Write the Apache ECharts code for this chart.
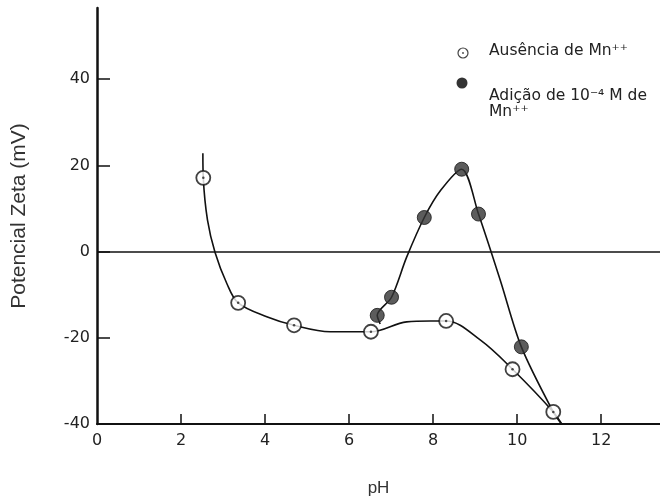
<!DOCTYPE html>
<html>
<head>
<meta charset="utf-8">
<script src="https://cdn.jsdelivr.net/npm/echarts@6/dist/echarts.min.js"></script>
<style>
  html, body { margin: 0; padding: 0; background: #fff; }
  #chart { width: 660px; height: 497px; }
</style>
</head>
<body>
<div id="chart"></div>
<script>
// Axis tick labels
const xTicks = [0, 2, 4, 6, 8, 10, 12];
const yTicks = [-40, -20, 0, 20, 40];

// Measured zeta potential without Mn++
const pHSemMn = [2.53, 3.36, 4.69, 6.52, 8.31, 9.89, 10.86];
const zetaSemMn = [17.1, -11.9, -17.1, -18.6, -16.1, -27.3, -37.2];

// Measured zeta potential with 10^-4 M Mn++
const pHComMn = [6.67, 7.01, 7.79, 8.68, 9.08, 10.10];
const zetaComMn = [-14.8, -10.6, 7.9, 19.1, 8.7, -22.1];

// Trend curves drawn through the measurements (knots)
const curvaSemMnPH = [2.52, 2.53, 2.63, 2.81, 3.09, 3.36, 4.04, 4.69, 5.55, 6.52, 7.37, 7.93, 8.31, 9.12, 9.89, 10.86, 11.10];
const curvaSemMnZeta = [22.8, 17.1, 7.3, -0.2, -7.4, -11.9, -15.1, -17.1, -18.6, -18.6, -16.3, -16.1, -16.1, -20.5, -27.3, -37.2, -40.6];
const curvaComMnPH = [6.74, 6.67, 7.01, 7.37, 7.79, 8.18, 8.68, 9.08, 9.60, 10.10, 10.86, 11.10];
const curvaComMnZeta = [-16.8, -14.8, -10.6, -1.3, 7.9, 14.2, 19.1, 8.7, -6.7, -22.1, -37.2, -40.6];

const legendSemMn = 'Ausência de Mn⁺⁺';
const legendComMn = 'Adição de 10⁻⁴ M de\nMn⁺⁺';

const zip = (xs, ys) => xs.map((x, i) => [x, ys[i]]);

const ink = '#111';
const chart = echarts.init(document.getElementById('chart'), null, { renderer: 'canvas' });

chart.setOption({
  animation: false,
  backgroundColor: '#fff',
  grid: { left: 97, right: 0, top: 8, bottom: 73, containLabel: false, outerBoundsMode: 'none' },
  xAxis: {
    type: 'value',
    min: 0,
    max: 13.4,
    name: 'pH',
    nameLocation: 'middle',
    nameGap: 56,
    nameTextStyle: { fontFamily: 'Liberation Sans', fontSize: 17, color: '#333' },
    axisLine: { show: true, onZero: false, lineStyle: { color: ink, width: 2 } },
    axisTick: { show: true, inside: true, length: 10, lineStyle: { color: ink, width: 1.5 },
                customValues: xTicks.filter(v => v > 0) },
    axisLabel: { show: true, margin: 9, fontFamily: 'DejaVu Sans', fontSize: 16, color: '#222',
                 customValues: xTicks },
    splitLine: { show: false }
  },
  yAxis: {
    type: 'value',
    min: -40,
    max: 56.5,
    name: 'Potencial Zeta (mV)',
    nameLocation: 'middle',
    nameGap: 67,
    nameRotate: 90,
    nameTextStyle: { fontFamily: 'Liberation Sans', fontSize: 21, color: '#333' },
    axisLine: { show: true, onZero: false, lineStyle: { color: ink, width: 2.5 } },
    axisTick: { show: true, inside: true, length: 13, lineStyle: { color: ink, width: 1.5 },
                customValues: yTicks.filter(v => v > -40) },
    axisLabel: { show: true, margin: 7, fontFamily: 'DejaVu Sans', fontSize: 16, color: '#222',
                 customValues: yTicks },
    splitLine: { show: false }
  },
  series: [
    {
      name: 'curva sem Mn',
      type: 'line',
      data: zip(curvaSemMnPH, curvaSemMnZeta),
      smooth: 0.35,
      showSymbol: false,
      symbol: 'none',
      lineStyle: { color: ink, width: 1.6 },
      z: 2,
      markLine: {
        silent: true,
        symbol: 'none',
        label: { show: false },
        lineStyle: { color: ink, width: 1.7, type: 'solid' },
        data: [{ yAxis: 0 }]
      }
    },
    {
      name: 'curva com Mn',
      type: 'line',
      data: zip(curvaComMnPH, curvaComMnZeta),
      smooth: 0.3,
      showSymbol: false,
      symbol: 'none',
      lineStyle: { color: ink, width: 1.6 },
      z: 2
    },
    {
      name: legendSemMn,
      type: 'scatter',
      data: zip(pHSemMn, zetaSemMn),
      symbol: 'circle',
      symbolSize: 14,
      itemStyle: { color: '#fff', borderColor: ink, borderWidth: 1.8 },
      z: 4
    },
    {
      name: 'centro',
      type: 'scatter',
      data: zip(pHSemMn, zetaSemMn),
      symbol: 'circle',
      symbolSize: 2.5,
      itemStyle: { color: '#222' },
      z: 5
    },
    {
      name: legendComMn,
      type: 'scatter',
      data: zip(pHComMn, zetaComMn),
      symbol: 'circle',
      symbolSize: 14,
      itemStyle: { color: '#333', borderColor: '#151515', borderWidth: 1 },
      z: 4
    }
  ],
  graphic: [
    { type: 'circle', shape: { cx: 463, cy: 53, r: 5 },
      style: { fill: '#fff', stroke: '#444', lineWidth: 1.2 } },
    { type: 'circle', shape: { cx: 463, cy: 53, r: 0.9 }, style: { fill: '#444' } },
    { type: 'circle', shape: { cx: 462, cy: 83, r: 5.5 }, style: { fill: '#333' } },
    { type: 'text', left: 489, top: 43,
      style: { text: legendSemMn, fontFamily: 'DejaVu Sans', fontSize: 15.5, fill: '#222' } },
    { type: 'text', left: 489, top: 88,
      style: { text: legendComMn, fontFamily: 'DejaVu Sans', fontSize: 15.5, lineHeight: 16, fill: '#222' } }
  ]
});
</script>
</body>
</html>
